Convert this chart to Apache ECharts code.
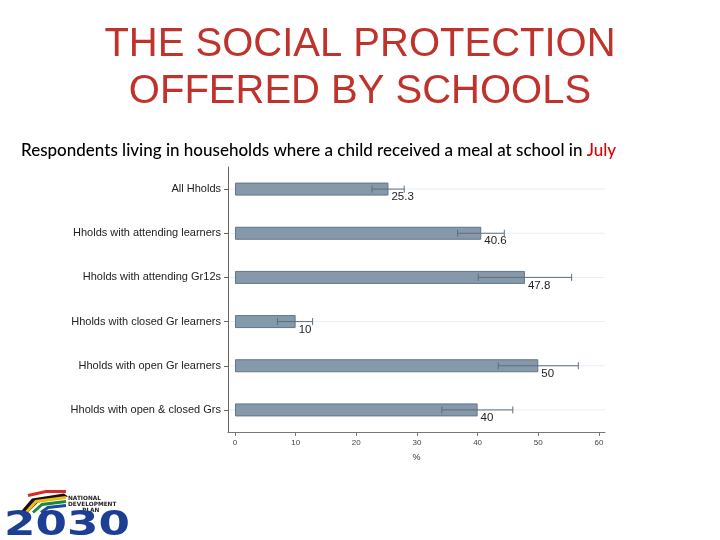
<!DOCTYPE html>
<html>
<head>
<meta charset="utf-8">
<script src="https://cdn.jsdelivr.net/npm/echarts@6/dist/echarts.min.js"></script>
<style>
html,body{margin:0;padding:0;background:#fff;}
#main{width:720px;height:540px;}
</style>
</head>
<body>
<div id="main"></div>
<script>
// ---- data ----
const categories = [
  'All Hholds',
  'Hholds with attending learners',
  'Hholds with attending Gr12s',
  'Hholds with closed Gr learners',
  'Hholds with open Gr learners',
  'Hholds with open & closed Grs'
];
const values = [25.3, 40.6, 47.8, 10, 50, 40];
const lowerCI = [22.6, 36.7, 40.1, 7.0, 43.4, 34.1];
const upperCI = [27.9, 44.4, 55.5, 12.8, 56.6, 45.8];
const xTicks = [0, 10, 20, 30, 40, 50, 60];

const errData = categories.map((c, i) => [i, lowerCI[i], upperCI[i]]);
const gridData = categories.map((c, i) => [i]);

const chart = echarts.init(document.getElementById('main'));
chart.setOption({
  animation: false,
  backgroundColor: '#fff',
  title: [{
    text: 'THE SOCIAL PROTECTION\nOFFERED BY SCHOOLS',
    left: 'center',
    top: 16,
    textStyle: {
      fontFamily: 'Liberation Sans, Arial',
      fontSize: 40,
      fontWeight: 'normal',
      color: '#c0322c',
      lineHeight: 47
    }
  }, {
    text: '{b|Respondents living in households where a child received a meal at school in }{r|July}',
    left: 16,
    top: 137,
    textStyle: {
      rich: {
        b: {fontFamily: 'Lato', fontSize: 17, color: '#000', fontWeight: 500},
        r: {fontFamily: 'Lato', fontSize: 17, color: '#e00000', fontWeight: 500}
      }
    }
  }],
  grid: {left: 228, right: 115, top: 167, bottom: 108, containLabel: false},
  xAxis: {
    type: 'value',
    min: -1.15,
    max: 61,
    name: '%',
    nameLocation: 'middle',
    nameGap: 21,
    nameTextStyle: {fontFamily: 'Liberation Sans, Arial', fontSize: 9, color: '#333'},
    axisLine: {show: true, lineStyle: {color: '#777', width: 1}},
    axisTick: {show: true, length: 4, customValues: xTicks, lineStyle: {color: '#777'}},
    axisLabel: {customValues: xTicks, fontFamily: 'Liberation Sans, Arial', fontSize: 8, color: '#444', margin: 7},
    splitLine: {show: false}
  },
  yAxis: {
    type: 'category',
    data: categories,
    inverse: true,
    axisLine: {show: true, onZero: false, lineStyle: {color: '#666', width: 1}},
    axisTick: {show: true, alignWithLabel: true, length: 4, lineStyle: {color: '#666'}},
    axisLabel: {fontFamily: 'Liberation Sans, Arial', fontSize: 11, color: '#222', margin: 7},
    splitLine: {show: false}
  },
  series: [{
    type: 'custom',
    name: 'grid',
    z: 1,
    silent: true,
    data: gridData,
    encode: {y: 0},
    renderItem: function (params, api) {
      const p = api.coord([0, api.value(0)]);
      const cs = params.coordSys;
      return {
        type: 'line',
        shape: {x1: cs.x + 1, y1: p[1], x2: cs.x + cs.width, y2: p[1]},
        style: {stroke: '#e8eef3', lineWidth: 1}
      };
    }
  }, {
    type: 'bar',
    name: 'meal',
    z: 2,
    data: values,
    barWidth: 13,
    itemStyle: {color: '#8599aa', borderColor: '#60768a', borderWidth: 1},
    label: {
      show: true,
      position: 'right',
      distance: 3,
      offset: [0, 8],
      fontFamily: 'Liberation Sans, Arial',
      fontSize: 11.5,
      color: '#222',
      formatter: p => String(p.value)
    }
  }, {
    type: 'custom',
    name: 'ci',
    z: 3,
    silent: true,
    data: errData,
    encode: {y: 0, x: [1, 2]},
    renderItem: function (params, api) {
      const i = api.value(0);
      const a = api.coord([api.value(1), i]);
      const b = api.coord([api.value(2), i]);
      const h = 3.5;
      const st = {stroke: '#5d6e7e', lineWidth: 1};
      return {
        type: 'group',
        children: [
          {type: 'line', shape: {x1: a[0], y1: a[1], x2: b[0], y2: b[1]}, style: st},
          {type: 'line', shape: {x1: a[0], y1: a[1] - h, x2: a[0], y2: a[1] + h}, style: st},
          {type: 'line', shape: {x1: b[0], y1: b[1] - h, x2: b[0], y2: b[1] + h}, style: st}
        ]
      };
    }
  }],
  graphic: [{
    type: 'group',
    left: 4,
    top: 489,
    children: [
      {type: 'polygon', shape: {points: [[16,22],[28,8],[60,3],[64,6],[34,12],[24,22]]}, style: {fill: '#111'}},
      {type: 'polyline', shape: {points: [[22,22],[32,11],[62,7]]}, style: {stroke: '#f2b90f', lineWidth: 3, fill: 'none'}},
      {type: 'polyline', shape: {points: [[29,22],[38,14],[62,11]]}, style: {stroke: '#1a8a3a', lineWidth: 3, fill: 'none'}},
      {type: 'polyline', shape: {points: [[24,5],[42,1],[62,1]]}, style: {stroke: '#d62b2b', lineWidth: 3, fill: 'none'}},
      {type: 'polyline', shape: {points: [[37,22],[44,17],[62,15]]}, style: {stroke: '#1e4aa0', lineWidth: 3, fill: 'none'}},
      {type: 'text', x: 64, y: 5, style: {text: 'NATIONAL\nDEVELOPMENT\n       PLAN', fontFamily: 'DejaVu Sans', fontWeight: 'bold', fontSize: 5.8, lineHeight: 6, fill: '#222', align: 'left'}},
      {type: 'text', x: 0, y: 19, scaleX: 1.33, style: {text: '2030', fontFamily: 'DejaVu Sans', fontWeight: 'bold', fontSize: 34, fill: '#1d3f93'}}
    ]
  }]
});
</script>
</body>
</html>
